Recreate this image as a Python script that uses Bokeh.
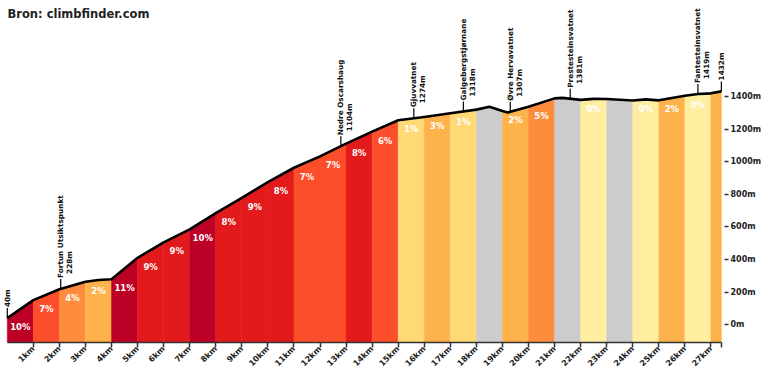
import numpy as np
from bokeh.plotting import figure
from bokeh.models import Range1d, FixedTicker, Label, LabelSet, ColumnDataSource
from bokeh.core.properties import value
from bokeh.embed import file_html
from bokeh.resources import INLINE

title_text = "Bron: climbfinder.com"

# elevation profile (km, m)
profile_km = [0, 1, 2, 3, 3.5, 4, 4.5, 5, 6, 7, 8, 9, 10, 11, 12, 13, 14, 15, 16, 17,
              18, 18.5, 19, 19.2, 20, 21, 21.3, 22, 22.5, 23, 24, 24.5, 25, 26, 26.5, 27, 27.4]
profile_elev = [40, 150, 217, 263, 274, 278, 345, 410, 505, 585, 685, 778, 875, 963, 1033, 1111, 1185, 1255, 1275, 1298,
                1320, 1338, 1311, 1302, 1338, 1389, 1392, 1380, 1386, 1385, 1376, 1383, 1377, 1405, 1416, 1420, 1432]

# per-km segments
seg_start = [0, 1, 2, 3, 4, 5, 6, 7, 8, 9, 10, 11, 12, 13, 14, 15, 16, 17, 18, 19, 20, 21, 22, 23, 24, 25, 26, 27]
seg_end = [1, 2, 3, 4, 5, 6, 7, 8, 9, 10, 11, 12, 13, 14, 15, 16, 17, 18, 19, 20, 21, 22, 23, 24, 25, 26, 27, 27.4]
seg_grade = [10, 7, 4, 2, 11, 9, 9, 10, 8, 9, 8, 7, 7, 8, 6, 1, 3, 1, -1, 2, 5, -1, 0, -1, 0, 2, 0, 3]
seg_label = ["10%", "7%", "4%", "2%", "11%", "9%", "9%", "10%", "8%", "9%", "8%", "7%", "7%", "8%", "6%",
             "1%", "3%", "1%", "", "2%", "5%", "", "0%", "", "0%", "2%", "0%", ""]

# waypoints
wp_km = [0, 2.05, 12.8, 15.6, 17.5, 19.3, 21.6, 26.5, 27.4]
wp_name = ["", "Fortun Utsiktspunkt", "Nedre Oscarshaug", "Gjuvvatnet", "Galgebergstjørnane",
           "Øvre Hervavatnet", "Prestesteinsvatnet", "Fantesteinsvatnet", ""]
wp_elev = [40, 228, 1104, 1274, 1318, 1307, 1381, 1419, 1432]

x_ticks = list(range(1, 28))
y_ticks = [0, 200, 400, 600, 800, 1000, 1200, 1400]

DIST_END = 27.4
X_MIN, X_MAX = -0.26, 27.52
Y_MIN, Y_MAX = -110, 1990


def grade_color(g):
    if g < 0:
        return "#CCCCCC"
    if g >= 10:
        return "#BD0026"
    if g >= 8:
        return "#E31A1C"
    if g >= 6:
        return "#FC4E2A"
    if g >= 4:
        return "#FD8D3C"
    if g >= 2:
        return "#FEB24C"
    if g >= 1:
        return "#FED976"
    return "#FFEDA0"


p = figure(width=764, height=374, output_backend="svg", toolbar_location=None,
           x_range=Range1d(X_MIN, X_MAX), y_range=Range1d(Y_MIN, Y_MAX),
           y_axis_location="right", min_border_left=0, min_border_top=0,
           min_border_right=0, min_border_bottom=0)
p.outline_line_color = None
p.grid.visible = False
p.background_fill_color = "white"
p.border_fill_color = "white"

FONT = "DejaVu Sans"

# segment patches
xs, ys, cols = [], [], []
for a, b, g in zip(seg_start, seg_end, seg_grade):
    pts = [a] + [k for k in profile_km if a < k < b] + [b]
    el = list(np.interp(pts, profile_km, profile_elev))
    xs.append(pts + [b, a])
    ys.append(el + [Y_MIN - 50, Y_MIN - 50])
    cols.append(grade_color(g))
p.patches(xs, ys, fill_color=cols, line_color=cols, line_width=0.5)

# profile line
p.line(profile_km, profile_elev, line_color="black", line_width=2.6, line_join="round")

# percentage labels
lx, ly, lt = [], [], []
for a, b, t in zip(seg_start, seg_end, seg_label):
    if t:
        lx.append((a + b) / 2)
        ly.append(float(np.interp(a, profile_km, profile_elev)))
        lt.append(t)
p.text(x=lx, y=ly, text=lt, text_color="white", text_font=value(FONT), text_font_style="bold",
       text_font_size="8.5px", text_align="center", text_baseline="middle", y_offset=9)

# waypoint ticks & labels
px_per_m = 343.0 / (Y_MAX - Y_MIN)
wp_y = [float(np.interp(k, profile_km, profile_elev)) for k in wp_km]
p.segment(x0=wp_km, y0=wp_y, x1=wp_km, y1=[y + 10 / px_per_m for y in wp_y], line_color="black", line_width=1.2)

name_src = ColumnDataSource(dict(x=[k for k, n in zip(wp_km, wp_name) if n],
                                 y=[y for y, n in zip(wp_y, wp_name) if n],
                                 t=[n for n in wp_name if n]))
p.add_layout(LabelSet(x="x", y="y", text="t", source=name_src, angle=np.pi / 2, text_color="#111",
                      text_font=value(FONT), text_font_style="bold", text_font_size="7.3px",
                      text_align="left", text_baseline="middle", y_offset=11))

elev_src = ColumnDataSource(dict(x=wp_km, y=wp_y, t=[f"{e}m" for e in wp_elev],
                                 xo=[9 if n else 0 for n in wp_name],
                                 yo=[15 if n else 11 for n in wp_name]))
p.add_layout(LabelSet(x="x", y="y", text="t", source=elev_src, angle=np.pi / 2, text_color="#111",
                      text_font=value(FONT), text_font_style="bold", text_font_size="7.3px",
                      text_align="left", text_baseline="middle", x_offset="xo", y_offset="yo"))

# axes
for ax in (p.xaxis[0], p.yaxis[0]):
    ax.axis_label = None
    ax.major_label_text_font = FONT
    ax.major_label_text_font_style = "bold"
    ax.major_label_text_font_size = "8px"
    ax.major_label_text_color = "#222"
    ax.major_tick_line_color = "#333"
    ax.major_tick_line_width = 1.5
    ax.major_tick_in = 0
    ax.minor_tick_line_color = None
    ax.minor_tick_out = 0

xa = p.xaxis[0]
xa.ticker = FixedTicker(ticks=x_ticks + [DIST_END])
xa.major_label_overrides = {**{t: f"{t}km" for t in x_ticks}, DIST_END: ""}
xa.major_label_orientation = np.pi / 4
xa.axis_line_color = "#333"
xa.axis_line_width = 1.5
xa.major_tick_out = 5
xa.major_label_standoff = 0
xa.bounds = (0, DIST_END)

ya = p.yaxis[0]
ya.ticker = FixedTicker(ticks=y_ticks)
ya.major_label_overrides = {t: f"{t}m" for t in y_ticks}
ya.axis_line_color = None
ya.major_tick_out = 4
ya.major_label_standoff = 2

p.add_layout(Label(x=X_MIN, y=Y_MAX, text=title_text, text_font=FONT, text_font_style="bold",
                   text_font_size="11.5px", text_color="#222", text_baseline="top",
                   x_offset=7, y_offset=-6))

open("out.html", "w").write(file_html(p, INLINE))
